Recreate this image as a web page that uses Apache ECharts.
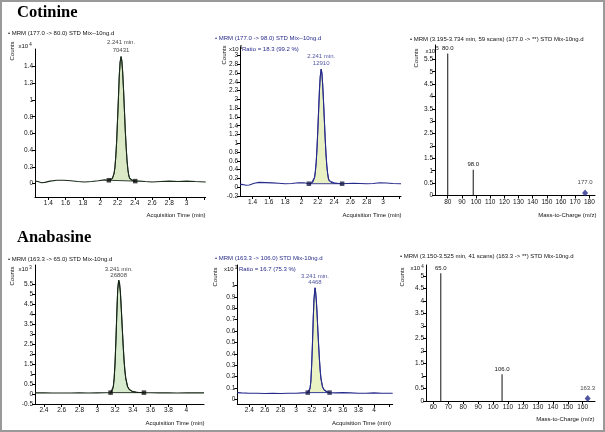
<!DOCTYPE html>
<html><head><meta charset="utf-8">
<script src="https://cdn.jsdelivr.net/npm/echarts@6/dist/echarts.min.js"></script>
<style>html,body{margin:0;padding:0;background:#fff}#c{width:605px;height:432px}</style>
</head><body><div id="c"></div>
<script>
// ---------------- DATA ----------------
// Cotinine quantifier MRM (177.0 -> 80.0), counts x10^4
const cotQuantTrace = [[1.246,0.03],[1.28,0.025],[1.32,0.01],[1.36,0.015],[1.42,0.03],[1.5,0.04],[1.58,0.04],[1.66,0.035],[1.74,0.025],[1.82,0.02],[1.9,0.025],[1.98,0.035],[2.05,0.045],[2.1,0.04],[2.12,0.045],[2.14,0.06],[2.16,0.12],[2.17,0.19],[2.18,0.32],[2.19,0.5],[2.2,0.75],[2.21,1.0],[2.22,1.28],[2.23,1.45],[2.241,1.52],[2.25,1.47],[2.26,1.33],[2.27,1.12],[2.28,0.88],[2.29,0.64],[2.3,0.44],[2.31,0.28],[2.32,0.17],[2.33,0.1],[2.34,0.065],[2.36,0.045],[2.38,0.035],[2.405,0.03],[2.45,0.03],[2.52,0.025],[2.6,0.02],[2.7,0.025],[2.8,0.03],[2.9,0.025],[3.0,0.03],[3.1,0.025],[3.22,0.02]];
const cotQuantMarks = [[2.1,0.04],[2.405,0.03]];
const cotQuantApex = [2.241,1.52];
const cotQuantLabel = ['2.241 min.','70431'];
// Cotinine qualifier MRM (177.0 -> 98.0), counts x10^3
const cotQualTrace = [[1.246,0.07],[1.28,0.06],[1.32,0.045],[1.36,0.05],[1.42,0.09],[1.48,0.11],[1.56,0.105],[1.64,0.1],[1.72,0.09],[1.8,0.08],[1.88,0.085],[1.96,0.1],[2.03,0.1],[2.09,0.08],[2.12,0.09],[2.14,0.11],[2.16,0.22],[2.17,0.36],[2.18,0.56],[2.19,0.88],[2.2,1.29],[2.21,1.75],[2.22,2.21],[2.23,2.52],[2.241,2.69],[2.25,2.6],[2.26,2.33],[2.27,1.95],[2.28,1.54],[2.29,1.13],[2.3,0.77],[2.31,0.5],[2.32,0.32],[2.33,0.2],[2.34,0.15],[2.36,0.11],[2.4,0.095],[2.45,0.085],[2.498,0.08],[2.56,0.085],[2.64,0.09],[2.72,0.085],[2.8,0.08],[2.88,0.085],[2.96,0.1],[3.04,0.095],[3.12,0.085],[3.22,0.08]];
const cotQualMarks = [[2.09,0.08],[2.498,0.08]];
const cotQualApex = [2.241,2.69];
const cotQualLabel = ['2.241 min.','12910'];
// Cotinine product spectrum, counts x10^5
const cotMz = [80.0, 98.0];
const cotIntensity = [5.74, 1.04];
const cotPrecursor = [177.0, 0.1];
// Anabasine quantifier MRM (163.3 -> 65.0), counts x10^3
const anaQuantTrace = [[2.3,0.06],[2.4,0.06],[2.5,0.055],[2.6,0.05],[2.7,0.055],[2.8,0.06],[2.9,0.055],[3.0,0.06],[3.08,0.065],[3.15,0.07],[3.17,0.17],[3.18,0.36],[3.19,0.78],[3.2,1.56],[3.21,2.72],[3.22,4.08],[3.23,5.25],[3.241,5.71],[3.25,5.56],[3.26,5.1],[3.27,4.3],[3.28,3.4],[3.29,2.55],[3.3,1.77],[3.31,1.2],[3.32,0.8],[3.34,0.38],[3.36,0.23],[3.38,0.16],[3.4,0.12],[3.44,0.09],[3.48,0.075],[3.525,0.07],[3.6,0.065],[3.7,0.06],[3.8,0.06],[3.9,0.055],[4.0,0.06],[4.1,0.06],[4.2,0.06]];
const anaQuantMarks = [[3.15,0.07],[3.525,0.07]];
const anaQuantApex = [3.241,5.71];
const anaQuantLabel = ['3.241 min.','26808'];
// Anabasine qualifier MRM (163.3 -> 106.0), counts x10^3
const anaQualTrace = [[2.246,0.06],[2.3,0.058],[2.4,0.055],[2.5,0.055],[2.6,0.052],[2.7,0.055],[2.8,0.052],[2.9,0.055],[3.0,0.055],[3.08,0.058],[3.15,0.06],[3.17,0.07],[3.18,0.1],[3.19,0.16],[3.2,0.3],[3.21,0.48],[3.22,0.7],[3.23,0.88],[3.243,0.98],[3.25,0.95],[3.26,0.87],[3.27,0.75],[3.28,0.6],[3.29,0.47],[3.3,0.35],[3.31,0.25],[3.32,0.18],[3.34,0.11],[3.36,0.085],[3.38,0.07],[3.4,0.065],[3.43,0.06],[3.5,0.058],[3.6,0.06],[3.7,0.058],[3.8,0.055],[3.9,0.055],[4.0,0.058],[4.1,0.055],[4.24,0.055]];
const anaQualMarks = [[3.15,0.06],[3.43,0.06]];
const anaQualApex = [3.243,0.98];
const anaQualLabel = ['3.241 min.','4468'];
// Anabasine product spectrum, counts x10^4
const anaMz = [65.0, 106.0];
const anaIntensity = [5.11, 1.07];
const anaPrecursor = [163.3, 0.1];

// tick labels
const xTicksCot = [1.4,1.6,1.8,2,2.2,2.4,2.6,2.8,3];
const xTicksCotMinor = [3.2];
const yTicksCotQuant = [0,0.2,0.4,0.6,0.8,1,1.2,1.4];
const yTicksCotQual = [-0.2,0,0.2,0.4,0.6,0.8,1,1.2,1.4,1.6,1.8,2,2.2,2.4,2.6,2.8,3];
const xTicksCotMs = [80,90,100,110,120,130,140,150,160,170,180];
const yTicksCotMs = [0,0.5,1,1.5,2,2.5,3,3.5,4,4.5,5,5.5];
const xTicksAna = [2.4,2.6,2.8,3,3.2,3.4,3.6,3.8,4];
const xTicksAnaMinor = [4.2];
const yTicksAnaQuant = [-0.5,0,0.5,1,1.5,2,2.5,3,3.5,4,4.5,5,5.5];
const yTicksAnaQual = [0,0.1,0.2,0.3,0.4,0.5,0.6,0.7,0.8,0.9,1];
const xTicksAnaMs = [60,70,80,90,100,110,120,130,140,150,160];
const yTicksAnaMs = [0,0.5,1,1.5,2,2.5,3,3.5,4,4.5,5];

// ---------------- CHART ----------------
const FF = "'Liberation Sans Narrow','Liberation Sans',Arial,sans-serif";
const BLUE = '#262a8a';
const INK = '#111';
const grid = [], xAxis = [], yAxis = [], series = [];

function addPanel(box, xr, xLab, xMinor, yr, yLab) {
  const gi = grid.length;
  grid.push({left: box[0], top: box[1], width: box[2], height: box[3], containLabel: false, outerBoundsMode: 'none'});
  const common = {
    type: 'value', gridIndex: gi, splitLine: {show: false},
    axisLine: {show: true, onZero: false, lineStyle: {color: '#000', width: 1}},
  };
  xAxis.push(Object.assign({}, common, {
    min: xr[0], max: xr[1],
    axisTick: {show: true, customValues: xLab.concat(xMinor), length: 3, lineStyle: {color: '#000'}},
    axisLabel: {customValues: xLab, fontSize: 6.5, color: INK, margin: 3, fontFamily: FF, formatter: v => String(v)}
  }));
  yAxis.push(Object.assign({}, common, {
    min: yr[0], max: yr[1],
    axisTick: {show: true, customValues: yLab, length: 3, lineStyle: {color: '#000'}},
    axisLabel: {customValues: yLab, fontSize: 6.5, color: INK, margin: 2, fontFamily: FF, formatter: v => String(v)}
  }));
  return gi;
}

function addChrom(gi, trace, marks, apex, label, lineColor, fillColor, markColor, labelColor, labelLH) {
  const seg = trace.filter(p => p[0] >= marks[0][0] && p[0] <= marks[1][0]);
  series.push({
    type: 'custom', xAxisIndex: gi, yAxisIndex: gi, data: [0], silent: true, z: 1,
    renderItem: (params, api) => ({
      type: 'polygon',
      shape: {points: seg.map(p => api.coord(p))},
      style: {fill: fillColor, stroke: lineColor, lineWidth: 0.9}
    })
  });
  series.push({
    type: 'line', xAxisIndex: gi, yAxisIndex: gi, data: trace, showSymbol: false, symbol: 'none',
    lineStyle: {color: lineColor, width: 1.1}, z: 2, silent: true, animation: false
  });
  series.push({
    type: 'scatter', xAxisIndex: gi, yAxisIndex: gi, data: marks, symbol: 'rect', symbolSize: [4.5, 4.5],
    itemStyle: {color: markColor}, z: 3, silent: true
  });
  series.push({
    type: 'scatter', xAxisIndex: gi, yAxisIndex: gi, data: [apex], symbolSize: 0.1,
    itemStyle: {color: 'rgba(0,0,0,0)'}, z: 4, silent: true,
    label: {show: true, position: 'top', distance: 2, formatter: label.join('\n'), fontSize: 6, lineHeight: labelLH,
      fontFamily: FF, color: labelColor, align: 'center'}
  });
}

function addSpectrum(gi, mz, inten, prec, unitColor) {
  series.push({
    type: 'bar', xAxisIndex: gi, yAxisIndex: gi, data: mz.map((m, i) => [m, inten[i]]), barWidth: 1,
    itemStyle: {color: '#111'}, silent: true,
    label: {show: true, position: 'top', distance: 2, fontSize: 6, fontFamily: FF, color: INK,
      formatter: p => p.value[0].toFixed(1)}
  });
  series.push({
    type: 'scatter', xAxisIndex: gi, yAxisIndex: gi, data: [prec], symbol: 'diamond', symbolSize: [6, 7],
    itemStyle: {color: unitColor}, silent: true,
    label: {show: true, position: 'top', distance: 4, fontSize: 6, fontFamily: FF, color: INK,
      formatter: p => p.value[0].toFixed(1)}
  });
}

const g1 = addPanel([35, 49, 170.7, 148], [1.246, 3.22], xTicksCot, xTicksCotMinor, [-0.16, 1.61], yTicksCotQuant);
const g2 = addPanel([240, 46.7, 161, 149.3], [1.246, 3.22], xTicksCot, xTicksCotMinor, [-0.2, 3.2], yTicksCotQual);
const g3 = addPanel([435, 45, 160, 150.5], [71, 184], xTicksCotMs, [], [0, 6.08], yTicksCotMs);
const g4 = addPanel([35, 265, 169, 139], [2.3, 4.2], xTicksAna, [], [-0.5, 6.47], yTicksAnaQuant);
const g5 = addPanel([237.3, 265, 155.4, 139], [2.246, 4.24], xTicksAna, xTicksAnaMinor, [-0.04, 1.18], yTicksAnaQual);
const g6 = addPanel([426, 265, 169, 136], [55.1, 168.2], xTicksAnaMs, [], [0, 5.44], yTicksAnaMs);

addChrom(g1, cotQuantTrace, cotQuantMarks, cotQuantApex, cotQuantLabel, '#1a2b1a', '#dbe9c6', '#111', INK, 8);
addChrom(g2, cotQualTrace, cotQualMarks, cotQualApex, cotQualLabel, BLUE, '#e9f0c4', '#1a1d4a', BLUE, 7);
addSpectrum(g3, cotMz, cotIntensity, cotPrecursor, BLUE);
addChrom(g4, anaQuantTrace, anaQuantMarks, anaQuantApex, anaQuantLabel, '#152515', '#d9ebcf', '#111', INK, 6);
addChrom(g5, anaQualTrace, anaQualMarks, anaQualApex, anaQualLabel, BLUE, '#eaf2c4', '#1a1d4a', BLUE, 6);
addSpectrum(g6, anaMz, anaIntensity, anaPrecursor, BLUE);

function txt(x, y, text, o) {
  o = o || {};
  return {type: 'text', x: x, y: y, rotation: o.rot || 0, z: 100, silent: true,
    style: {text: text, fontSize: o.size || 6, fontFamily: o.ff || FF, fill: o.color || INK,
      align: o.align || 'left', verticalAlign: o.va || 'middle', fontWeight: o.w || 'normal', rich: o.rich}};
}
const supRich = {s: {fontSize: 4.5, padding: [0, 0, 4, 1], fontFamily: FF, fill: INK}};
const SERIF = "'Liberation Serif','Times New Roman',serif";
const graphics = [
  {type: 'rect', shape: {x: 1, y: 1, width: 603, height: 430}, style: {fill: 'none', stroke: '#999', lineWidth: 2}, z: 0, silent: true},
  txt(17, 13, 'Cotinine', {size: 16.5, ff: SERIF, color: '#000', w: 'bold'}),
  txt(17, 238, 'Anabasine', {size: 16.5, ff: SERIF, color: '#000', w: 'bold'}),
  // headers
  txt(8, 33.5, '• MRM (177.0 -> 80.0) STD Mix--10ng.d'),
  txt(215, 38, '• MRM (177.0 -> 98.0) STD Mix--10ng.d', {color: BLUE}),
  txt(242, 49, 'Ratio = 18.3 (99.2 %)', {color: BLUE}),
  txt(410, 39, '• MRM (3.195-3.734 min, 59 scans) (177.0 -> **) STD Mix-10ng.d'),
  txt(8, 259.5, '• MRM (163.3 -> 65.0) STD Mix-10ng.d'),
  txt(215, 258.5, '• MRM (163.3 -> 106.0) STD Mix-10ng.d', {color: BLUE}),
  txt(239, 269, 'Ratio = 16.7 (75.3 %)', {color: BLUE}),
  txt(400, 256, '• MRM (3.150-3.525 min, 41 scans) (163.3 -> **) STD Mix-10ng.d'),
  // Counts
  txt(12.7, 51, 'Counts', {rot: Math.PI / 2, align: 'center'}),
  txt(224, 55, 'Counts', {rot: Math.PI / 2, align: 'center'}),
  txt(416.7, 58, 'Counts', {rot: Math.PI / 2, align: 'center'}),
  txt(12.7, 276, 'Counts', {rot: Math.PI / 2, align: 'center'}),
  txt(215, 277, 'Counts', {rot: Math.PI / 2, align: 'center'}),
  txt(402.3, 277, 'Counts', {rot: Math.PI / 2, align: 'center'}),
  // multipliers
  txt(18.5, 46.5, 'x10{s|4}', {rich: supRich}),
  txt(229, 49.5, 'x10{s|3}', {rich: supRich}),
  txt(425.5, 51, 'x10{s|5}', {rich: supRich}),
  txt(18.5, 269.5, 'x10{s|3}', {rich: supRich}),
  txt(224, 269.5, 'x10{s|3}', {rich: supRich}),
  txt(410.5, 268.5, 'x10{s|4}', {rich: supRich}),
  // axis names
  txt(205.5, 215, 'Acquisition Time (min)', {align: 'right'}),
  txt(401.5, 215, 'Acquisition Time (min)', {align: 'right'}),
  txt(596.5, 215, 'Mass-to-Charge (m/z)', {align: 'right'}),
  txt(204.5, 423, 'Acquisition Time (min)', {align: 'right'}),
  txt(391, 423, 'Acquisition Time (min)', {align: 'right'}),
  txt(594.5, 419, 'Mass-to-Charge (m/z)', {align: 'right'})
];

const chart = echarts.init(document.getElementById('c'), null, {renderer: 'canvas'});
chart.setOption({
  backgroundColor: '#fff',
  animation: false,
  grid: grid, xAxis: xAxis, yAxis: yAxis, series: series,
  graphic: graphics
});
</script>
</body></html>
